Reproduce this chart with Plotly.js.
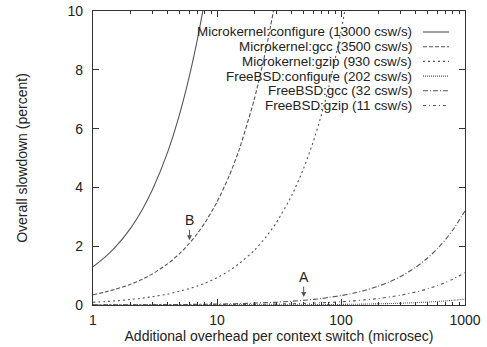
<!DOCTYPE html>
<html>
<head>
<meta charset="utf-8">
<script src="https://cdn.plot.ly/plotly-3.0.1.min.js"></script>
<style>html,body{margin:0;padding:0;background:#fff}#chart{width:487px;height:347px}</style>
</head>
<body>
<div id="chart"></div>
<script>
// Overhead per context switch (microsec) at which values were read
const overhead = [1, 1.25, 1.5, 2, 2.5, 3, 4, 5, 6, 7, 8, 10, 12.5, 15, 20, 25, 30, 40, 50, 60, 70, 80, 100, 125, 150, 200, 250, 300, 400, 500, 600, 700, 800, 1000];

const seriesNames = [
  "Microkernel:configure (13000 csw/s)",
  "Microkernel:gcc (3500 csw/s)",
  "Microkernel:gzip (930 csw/s)",
  "FreeBSD:configure (202 csw/s)",
  "FreeBSD:gcc (32 csw/s)",
  "FreeBSD:gzip (11 csw/s)"
];

// Overall slowdown (percent)
const mkConfigure = [1.3, 1.63, 1.95, 2.6, 3.25, 3.9, 5.2, 6.5, 7.8, 9.1, 10.4];
const mkGcc = [0.35, 0.44, 0.53, 0.7, 0.88, 1.05, 1.4, 1.75, 2.1, 2.45, 2.8, 3.5, 4.38, 5.25, 7.0, 8.75, 10.5];
const mkGzip = [0.093, 0.116, 0.14, 0.186, 0.233, 0.28, 0.37, 0.47, 0.56, 0.65, 0.74, 0.93, 1.16, 1.4, 1.86, 2.33, 2.79, 3.72, 4.65, 5.58, 6.51, 7.44, 9.3, 11.6];
const bsdConfigure = [0.0002, 0.00025, 0.0003, 0.0004, 0.0005, 0.0006, 0.0008, 0.001, 0.0012, 0.0014, 0.0016, 0.002, 0.0025, 0.003, 0.004, 0.005, 0.006, 0.008, 0.01, 0.012, 0.014, 0.016, 0.02, 0.025, 0.03, 0.04, 0.05, 0.06, 0.08, 0.1, 0.12, 0.14, 0.16, 0.2];
const bsdGcc = [0.0032, 0.004, 0.0048, 0.0064, 0.008, 0.0096, 0.0128, 0.016, 0.019, 0.022, 0.026, 0.032, 0.04, 0.048, 0.064, 0.08, 0.096, 0.128, 0.16, 0.19, 0.22, 0.26, 0.32, 0.4, 0.48, 0.64, 0.8, 0.96, 1.28, 1.6, 1.92, 2.24, 2.56, 3.2];
const bsdGzip = [0.0011, 0.0014, 0.0017, 0.0022, 0.0028, 0.0033, 0.0044, 0.0055, 0.0066, 0.0077, 0.0088, 0.011, 0.014, 0.017, 0.022, 0.028, 0.033, 0.044, 0.055, 0.066, 0.077, 0.088, 0.11, 0.14, 0.17, 0.22, 0.28, 0.33, 0.44, 0.55, 0.66, 0.77, 0.88, 1.1];

const seriesValues = [mkConfigure, mkGcc, mkGzip, bsdConfigure, bsdGcc, bsdGzip];
const dashes = ["solid", "4px,2px", "2px,3px", "1px,1px", "5px,2px,1px,2px", "3px,3px,1px,3px"];

const xTickVals = [1, 10, 100, 1000];
const xTickText = ["1", "10", "100", "1000"];

// Callouts
const calloutLabels = ["B", "A"];
const calloutX = [6, 50];
const calloutY = [2.2, 0.27];

const lineColor = "#555";
const textColor = "#222";
const font = "Liberation Sans, Arial, Helvetica, sans-serif";
const fs = 14;

const traces = seriesValues.map((vals, i) => ({
  x: overhead.slice(0, vals.length),
  y: vals,
  name: seriesNames[i],
  type: "scatter",
  mode: "lines",
  line: {color: lineColor, width: 1.1, dash: dashes[i], shape: "spline", smoothing: 0.6},
  showlegend: false
}));

// Hand-built legend: right-aligned text with the line sample on the right
const PL = 93, PR = 465, PT = 11, PB = 305;
const legTextX = 413, legLineX0 = 423, legLineX1 = 449, legY0 = 32, legDy = 14.7;
const px2fx = v => (v - PL) / (PR - PL);
const py2fy = v => 1 - (v - PT) / (PB - PT);
const annotations = seriesNames.map((n, i) => ({
  xref: "paper", yref: "paper",
  x: px2fx(legTextX), y: py2fy(legY0 + i * legDy),
  xanchor: "right", yanchor: "middle",
  text: n, showarrow: false, borderpad: 0,
  font: {family: font, size: 13.4, color: textColor}
}));
const shapes = seriesNames.map((n, i) => ({
  type: "line", xref: "paper", yref: "paper",
  x0: px2fx(legLineX0), x1: px2fx(legLineX1),
  y0: py2fy(legY0 + i * legDy), y1: py2fy(legY0 + i * legDy),
  line: {color: lineColor, width: 1.1, dash: dashes[i]}
}));

calloutLabels.forEach((lab, i) => {
  annotations.push({
    x: Math.log10(calloutX[i]), y: calloutY[i],
    xref: "x", yref: "y",
    text: lab, showarrow: true,
    arrowhead: 2, arrowsize: 1, arrowwidth: 1, arrowcolor: "#555",
    ax: 0, ay: -20,
    font: {family: font, size: fs, color: textColor}
  });
});

const layout = {
  width: 487, height: 347,
  margin: {l: PL, r: 487 - PR, t: PT, b: 347 - PB},
  paper_bgcolor: "#fff", plot_bgcolor: "#fff",
  font: {family: font, size: fs, color: textColor},
  xaxis: {
    type: "log", range: [0, 3],
    tickvals: xTickVals, ticktext: xTickText,
    ticks: "inside", ticklen: 6, tickcolor: "#333",
    minor: {ticks: "inside", ticklen: 3, dtick: "D1", tickcolor: "#333", showgrid: false},
    showline: true, linecolor: "#333", linewidth: 1.2, mirror: "allticks",
    showgrid: false, zeroline: false,
    ticklabelstandoff: 2,
    tickfont: {family: font, size: fs, color: textColor},
    title: {text: "Additional overhead per context switch (microsec)", font: {family: font, size: fs, color: textColor}, standoff: 0}
  },
  yaxis: {
    range: [0, 10], dtick: 2,
    ticks: "inside", ticklen: 6, tickcolor: "#333",
    showline: true, linecolor: "#333", linewidth: 1.2, mirror: "allticks",
    showgrid: false, zeroline: false,
    ticklabelstandoff: 6,
    tickfont: {family: font, size: fs, color: textColor},
    title: {text: "Overall slowdown (percent)", font: {family: font, size: fs, color: textColor}, standoff: 36}
  },
  annotations: annotations,
  shapes: shapes,
  showlegend: false
};

Plotly.newPlot("chart", traces, layout, {displayModeBar: false, staticPlot: true});
</script>
</body>
</html>
